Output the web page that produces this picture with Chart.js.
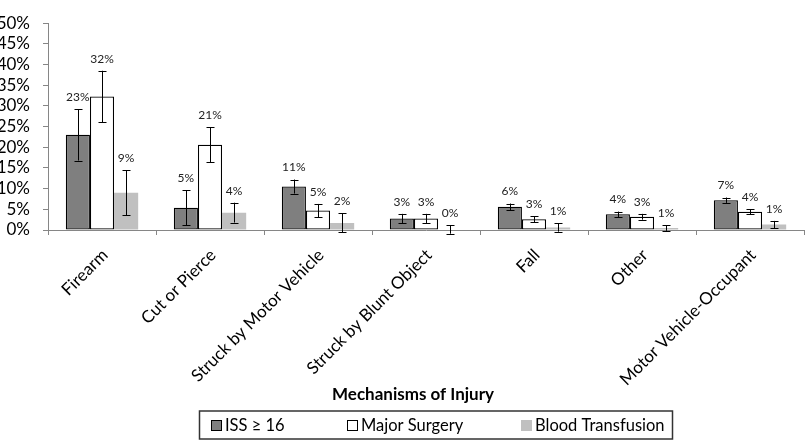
<!DOCTYPE html>
<html>
<head>
<meta charset="utf-8">
<script src="https://cdn.jsdelivr.net/npm/chart.js@4"></script>
<style>
  html, body { margin: 0; padding: 0; background: #fff; }
  #wrap { width: 807px; height: 440px; }
</style>
</head>
<body>
<div id="wrap"><canvas id="chart" width="807" height="440"></canvas></div>
<script>
const categories = ['Firearm', 'Cut or Pierce', 'Struck by Motor Vehicle', 'Struck by Blunt Object', 'Fall', 'Other', 'Motor Vehicle-Occupant'];
const seriesNames = ['ISS \u2265 16', 'Major Surgery', 'Blood Transfusion'];

// percentages
const issValues = [23.0, 5.4, 10.5, 2.8, 5.6, 3.8, 7.2];
const issErrors = [6.2, 4.2, 1.7, 1.1, 0.8, 0.65, 0.65];
const surgeryValues = [32.3, 20.6, 4.7, 2.8, 2.6, 3.2, 4.4];
const surgeryErrors = [6.2, 4.2, 1.6, 1.1, 0.7, 0.7, 0.65];
const transfusionValues = [9.0, 4.2, 1.7, 0.1, 0.6, 0.5, 1.3];
const transfusionErrors = [5.4, 2.4, 2.3, 1.0, 1.0, 0.7, 0.9];

const yTicks = [0, 5, 10, 15, 20, 25, 30, 35, 40, 45, 50];
const xTitle = 'Mechanisms of Injury';

const FONT = 'Lato, "Open Sans", sans-serif';
const AXIS_GRAY = '#868686';

const fills = ['#7f7f7f', '#ffffff', '#c0c0c0'];
const borders = ['#000000', '#000000', 'rgba(0,0,0,0)'];
const errors = [issErrors, surgeryErrors, transfusionErrors];

// error bars and value labels
const errorBars = {
  id: 'errorBars',
  afterDatasetsDraw(chart) {
    const ctx = chart.ctx;
    const y = chart.scales.y;
    ctx.save();
    chart.data.datasets.forEach((ds, i) => {
      const meta = chart.getDatasetMeta(i);
      meta.data.forEach((bar, j) => {
        const v = ds.data[j];
        const e = errors[i][j];
        const top = y.getPixelForValue(v + e);
        const bot = y.getPixelForValue(v - e);
        const x = Math.round(bar.x) + 0.5;
        ctx.strokeStyle = '#000';
        ctx.lineWidth = 1;
        ctx.beginPath();
        ctx.moveTo(x, top); ctx.lineTo(x, bot);
        ctx.moveTo(x - 4, Math.round(top) + 0.5); ctx.lineTo(x + 4, Math.round(top) + 0.5);
        ctx.moveTo(x - 4, Math.round(bot) + 0.5); ctx.lineTo(x + 4, Math.round(bot) + 0.5);
        ctx.stroke();

        ctx.fillStyle = '#222';
        ctx.font = '12px ' + FONT;
        ctx.textAlign = 'center';
        ctx.textBaseline = 'middle';
        ctx.fillText(Math.round(v) + '%', bar.x, top - 12);
      });
    });
    ctx.restore();
  }
};

// axis title and boxed legend under the plot
const bottomLegend = {
  id: 'bottomLegend',
  afterDraw(chart) {
    const ctx = chart.ctx;
    ctx.save();
    ctx.fillStyle = '#000';
    ctx.font = 'bold 17px ' + FONT;
    ctx.textAlign = 'center';
    ctx.textBaseline = 'middle';
    ctx.fillText(xTitle, 413, 395);

    ctx.strokeStyle = '#333';
    ctx.lineWidth = 1.5;
    ctx.strokeRect(199.5, 411, 473, 28);

    const starts = [211, 347, 521];
    ctx.font = '16.5px ' + FONT;
    ctx.textAlign = 'left';
    seriesNames.forEach((name, i) => {
      const sx = starts[i];
      ctx.fillStyle = fills[i];
      ctx.fillRect(sx, 420, 11, 11);
      if (i < 2) {
        ctx.strokeStyle = '#000';
        ctx.lineWidth = 1;
        ctx.strokeRect(sx + 0.5, 420.5, 10, 10);
      }
      ctx.fillStyle = '#000';
      ctx.fillText(name, sx + 14, 426);
    });
    ctx.restore();
  }
};

const datasets = [issValues, surgeryValues, transfusionValues].map((vals, i) => ({
  label: seriesNames[i],
  data: vals,
  backgroundColor: fills[i],
  borderColor: borders[i],
  borderWidth: i < 2 ? 1.25 : 0,
  borderSkipped: false,
  categoryPercentage: 0.67,
  barPercentage: 1.0
}));

new Chart(document.getElementById('chart'), {
  type: 'bar',
  data: { labels: categories, datasets },
  options: {
    responsive: false,
    animation: false,
    devicePixelRatio: 1,
    layout: { padding: { top: 8, right: 3, left: 0, bottom: 0 } },
    plugins: {
      legend: { display: false },
      tooltip: { enabled: false }
    },
    scales: {
      x: {
        afterFit: s => { s.height = 210; },
        grid: {
          offset: true,
          drawOnChartArea: false,
          drawTicks: true,
          tickLength: 5,
          color: AXIS_GRAY
        },
        border: { display: true, color: AXIS_GRAY, width: 1 },
        ticks: {
          autoSkip: false,
          minRotation: 45,
          maxRotation: 45,
          padding: 10,
          labelOffset: 3,
          color: '#000',
          font: { family: FONT, size: 17 }
        }
      },
      y: {
        min: 0,
        max: 50,
        afterFit: s => { s.width = 48; },
        afterBuildTicks: s => { s.ticks = yTicks.map(v => ({ value: v })); },
        grid: {
          drawOnChartArea: false,
          drawTicks: true,
          tickLength: 5,
          color: AXIS_GRAY
        },
        border: { display: true, color: AXIS_GRAY, width: 1 },
        ticks: {
          autoSkip: false,
          padding: 13,
          color: '#000',
          font: { family: FONT, size: 17 },
          callback: v => v + '%'
        }
      }
    }
  },
  plugins: [errorBars, bottomLegend]
});
</script>
</body>
</html>
